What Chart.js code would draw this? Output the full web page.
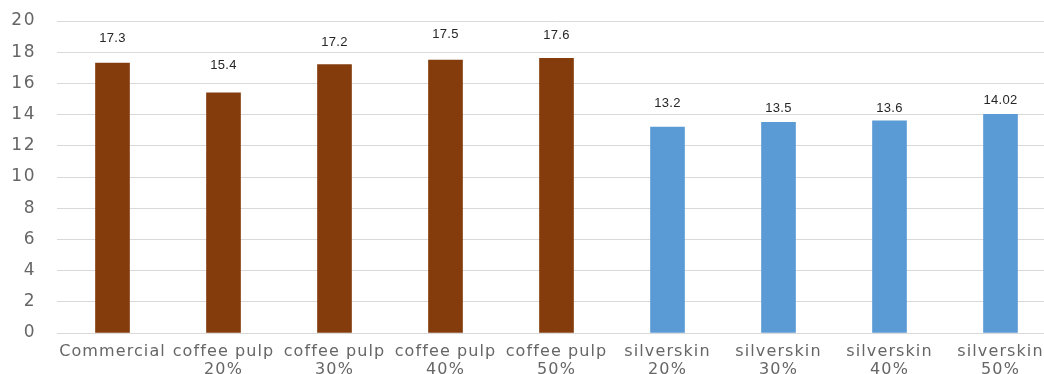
<!DOCTYPE html>
<html>
<head>
<meta charset="utf-8">
<script src="https://cdn.jsdelivr.net/npm/chart.js@4"></script>
<style>
  html, body { margin: 0; padding: 0; background: #fff; overflow: hidden; }
  #wrap { width: 1056px; height: 374px; }
</style>
</head>
<body>
<div id="wrap"><canvas id="chart" width="1056" height="374"></canvas></div>
<script>
// Categories (two-line labels) and measured values
const categories = [
  ['Commercial'],
  ['coffee pulp', '20%'],
  ['coffee pulp', '30%'],
  ['coffee pulp', '40%'],
  ['coffee pulp', '50%'],
  ['silverskin', '20%'],
  ['silverskin', '30%'],
  ['silverskin', '40%'],
  ['silverskin', '50%']
];
const values = [17.3, 15.4, 17.2, 17.5, 17.6, 13.2, 13.5, 13.6, 14.02];
const groups = ['brown', 'brown', 'brown', 'brown', 'brown', 'blue', 'blue', 'blue', 'blue'];
const yTicks = [0, 2, 4, 6, 8, 10, 12, 14, 16, 18, 20];

const palette = { brown: '#843C0C', blue: '#5B9BD5' };

// Distance (px) from each bar top to the middle of its value label
const labelRaise = [26, 28, 23, 27, 24, 24.5, 15, 13.5, 14.5];

// Wider tracking for the axis labels
const tracking = { x: '1.1px', y: '1.5px' };
const letterSpacing = {
  id: 'letterSpacing',
  afterLayout(chart) {
    Object.keys(tracking).forEach(id => {
      const scale = chart.scales[id];
      if (!scale || scale._trackingPatched) return;
      const draw = scale.drawLabels.bind(scale);
      scale.drawLabels = function (area) {
        const ctx = this.ctx;
        ctx.save();
        ctx.letterSpacing = tracking[id];
        draw(area);
        ctx.restore();
      };
      scale._trackingPatched = true;
    });
  }
};

// Value labels above each bar
const valueLabels = {
  id: 'valueLabels',
  afterDatasetsDraw(chart) {
    const ctx = chart.ctx;
    const meta = chart.getDatasetMeta(0);
    ctx.save();
    ctx.letterSpacing = '0.3px';
    ctx.font = '13px "Liberation Sans", Arial, sans-serif';
    ctx.fillStyle = '#262626';
    ctx.textAlign = 'center';
    ctx.textBaseline = 'alphabetic';
    meta.data.forEach((bar, i) => {
      ctx.fillText(String(values[i]), bar.x, bar.y - labelRaise[i] + 4.65);
    });
    ctx.restore();
  }
};

new Chart(document.getElementById('chart'), {
  type: 'bar',
  data: {
    labels: categories,
    datasets: [{
      data: values,
      backgroundColor: groups.map(g => palette[g]),
      borderWidth: 0,
      barThickness: 34
    }]
  },
  options: {
    responsive: false,
    animation: false,
    layout: { padding: { top: 21, right: 0, bottom: 0, left: 0 } },
    plugins: { legend: { display: false }, tooltip: { enabled: false } },
    scales: {
      x: {
        grid: { display: false, drawTicks: false },
        border: { display: false },
        ticks: {
          color: '#666666',
          font: { family: '"DejaVu Sans", Verdana, sans-serif', size: 16, lineHeight: 1.1 },
          padding: 10,
          maxRotation: 0,
          autoSkip: false
        },
        afterFit(scale) { scale.height = 41; }
      },
      y: {
        min: 0,
        max: 20,
        afterBuildTicks(scale) { scale.ticks = yTicks.map(v => ({ value: v })); },
        grid: { color: '#d9d9d9', lineWidth: 1, drawTicks: false },
        border: { display: false },
        ticks: {
          color: '#666666',
          font: { family: '"DejaVu Sans", Verdana, sans-serif', size: 17 },
          padding: 21
        },
        afterFit(scale) {
          scale.width = 57;
          scale.paddingTop = 0;
          scale.paddingBottom = 0;
        }
      }
    }
  },
  plugins: [letterSpacing, valueLabels]
});
</script>
</body>
</html>
